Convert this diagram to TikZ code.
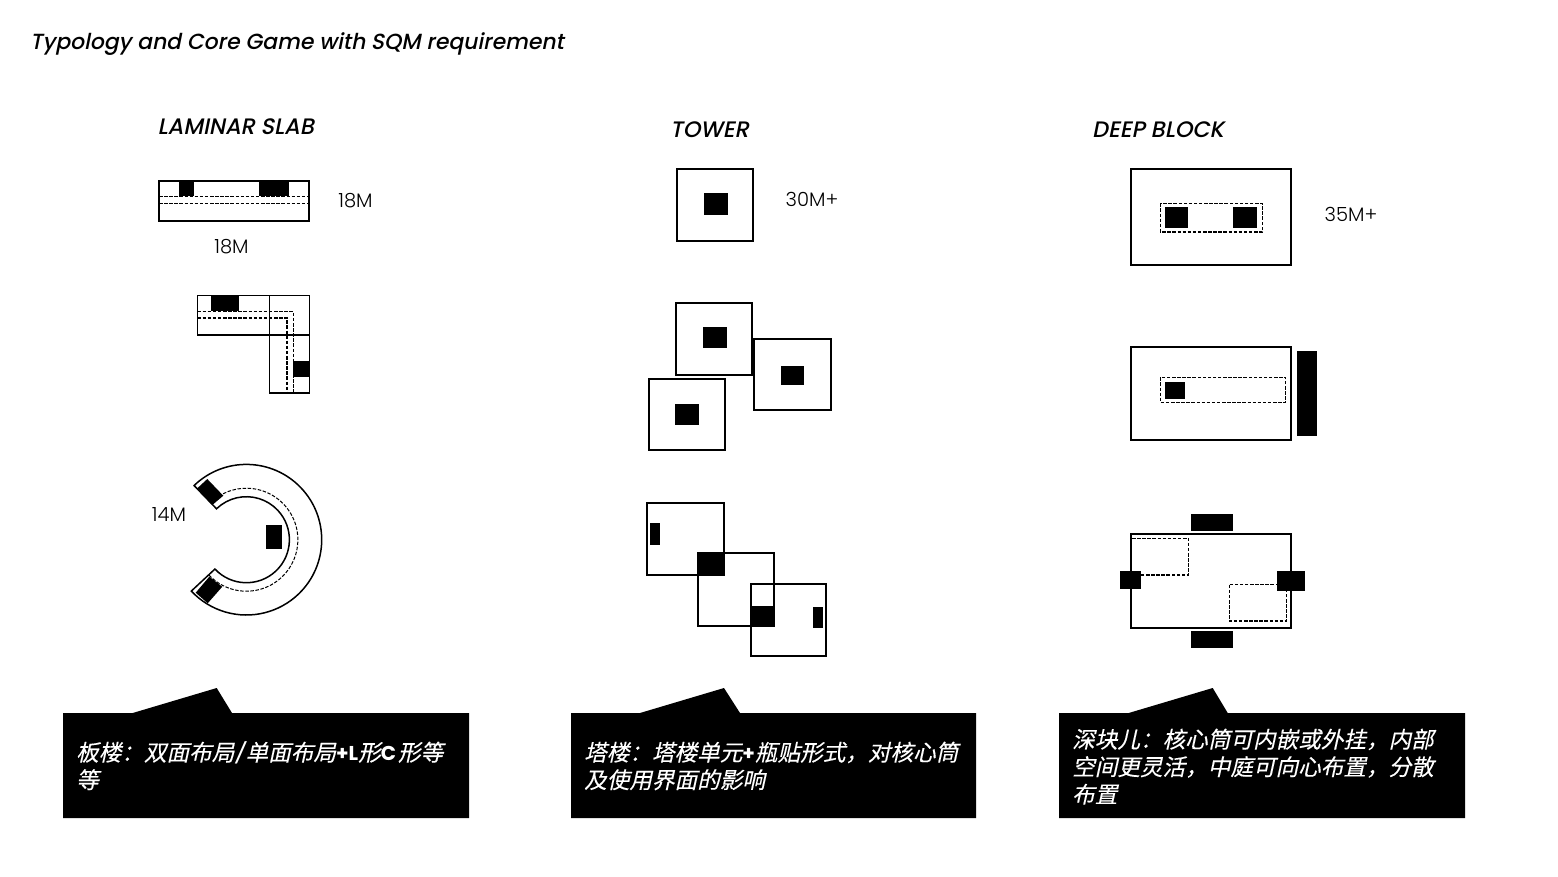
\documentclass[tikz,border=0pt]{standalone}
\usepackage{fontspec}
\setmainfont{Poppins}
\newfontfamily\cjkit[FakeSlant=0.22,FakeBold=0.25]{Noto Sans CJK SC}
\newfontfamily\gothic{Poppins}
\newfontfamily\gothicit[FakeSlant=0.2]{Poppins Medium}
\newfontfamily\gothicbf[FakeSlant=0.2]{Poppins Medium}
\newfontfamily\gothiclight{Poppins Light}
\newcommand{\lat}[1]{{\gothic\bfseries\fontsize{20}{27.5}\selectfont #1}}
\tikzset{
  wall/.style={draw=black,line width=1.8pt,fill=none},
  core/.style={fill=black,draw=none},
  dashthin/.style={draw=black,line width=1pt,dash pattern=on 3.5pt off 1.6pt},
  dashbold/.style={draw=black,line width=1.6pt,dash pattern=on 3.5pt off 1.6pt},
  heading/.style={anchor=west,inner sep=0pt,font=\gothicit\fontsize{21.9}{26}\selectfont},
  subhead/.style={anchor=west,inner sep=0pt,font=\gothicbf\fontsize{22.4}{26}\selectfont},
  dim/.style={anchor=center,inner sep=0pt,font=\gothiclight\fontsize{19.5}{22}\selectfont},
  note/.style={anchor=north west,inner sep=0pt,text=white,align=left,font=\cjkit\fontsize{22.6}{27.5}\selectfont},
}
\begin{document}
\begin{tikzpicture}[x=1pt,y=-1pt]
\useasboundingbox (0,0) rectangle (1558,876);
\fill[white] (0,0) rectangle (1558,876);
% headings
\node[heading] (title) at (30,44) {Typology and Core Game with SQM requirement};
\node[subhead] (hslab) at (157.5,127) {LAMINAR SLAB};
\node[subhead] (htower) at (670,130) {TOWER};
\node[subhead] (hdeep) at (1092,130) {DEEP BLOCK};
% slab 1
\fill[core] (179,181) rectangle (194,196);
\fill[core] (259,181) rectangle (289,196);
\draw[wall] (158.7,180.7) rectangle (309.3,221);
\draw[dashthin] (159,196) -- (309,196);
\draw[dashthin] (159,203.3) -- (309,203.3);
\node[dim] (d18a) at (355.5,201) {18M};
\node[dim] (d18b) at (231.5,247) {18M};
% slab L
\fill[core] (211,295.5) rectangle (239,311);
\fill[core] (293.3,361) rectangle (309.3,377);
\draw[wall,line width=1.6pt] (197.3,295.3) rectangle (309.3,335);
\draw[wall,line width=1.6pt] (269.3,295.3) rectangle (309.3,392.7);
\draw[dashthin] (197.5,311.7) -- (293.3,311.7) -- (293.3,392);
\draw[dashbold] (197.5,317.7) -- (286.7,317.7) -- (286.7,392);
% slab C
\def\cx{246.4}\def\cy{539.7}
\draw[wall,line width=1.5pt] ({\cx+75.3*cos(134)},{\cy-75.3*sin(134)}) arc[start angle=-134,end angle=137,radius=75.3] -- ({\cx+43*cos(223)},{\cy-43*sin(223)}) arc[start angle=137,end angle=-134,radius=43] -- cycle;
\draw[dashthin] ({\cx+51.5*cos(134)},{\cy-51.5*sin(134)}) arc[start angle=-134,end angle=137,radius=51.5];
\fill[core] (207.3,479) -- (223.3,495.7) -- (212.3,505) -- (197.3,488.3) -- cycle;
\fill[core] (209.3,576.7) -- (222.3,586.7) -- (207.7,603.3) -- (195.7,592.7) -- cycle;
\fill[core] (266,525) rectangle (282,549);
\node[dim] (d14) at (169,515) {14M};
% tower 1
\draw[wall] (677,169) rectangle (753,241);
\fill[core] (704,193) rectangle (728,215);
\node[dim] (d30) at (812,199) {30M+};
% tower 2
\draw[wall] (676,303) rectangle (752,375);
\fill[core] (703,327) rectangle (727,348);
\draw[wall] (754,339) rectangle (831,410);
\fill[core] (781,366) rectangle (804,385);
\draw[wall] (649,379) rectangle (725,450);
\fill[core] (675,404) rectangle (699,425);
% tower 3
\draw[wall] (646.7,502.7) rectangle (724,574.7);
\draw[wall] (698,553.3) rectangle (774,626);
\draw[wall] (750.7,584) rectangle (826.3,656);
\fill[core] (650,523) rectangle (660,545);
\fill[core] (697.3,553.3) rectangle (725,575.3);
\fill[core] (750.7,606) rectangle (775,626.7);
\fill[core] (813,607) rectangle (823,628);
% deep 1
\draw[wall] (1130.7,169) rectangle (1291.3,265.3);
\draw[dashbold] (1160.3,203.3) rectangle (1262.3,232);
\fill[core] (1165,207) rectangle (1188,228);
\fill[core] (1233,207) rectangle (1257,228);
\node[dim] (d35) at (1351,214) {35M+};
% deep 2
\draw[wall] (1130.7,346.7) rectangle (1291.3,440);
\draw[dashthin] (1160.3,377.3) rectangle (1285.7,402.3);
\fill[core] (1165,382) rectangle (1185,399);
\fill[core] (1297,351) rectangle (1317,436);
% deep 3
\draw[wall] (1130.7,533.7) rectangle (1291.3,628.3);
\draw[dashbold,line width=1.3pt] (1132,538.3) -- (1188.7,538.3) -- (1188.7,575) -- (1141,575);
\draw[dashbold,line width=1.3pt] (1229.3,584.7) rectangle (1286.7,621);
\fill[core] (1191,514) rectangle (1233,531);
\fill[core] (1191,631) rectangle (1233,648);
\fill[core] (1120,571) rectangle (1141,589);
\fill[core] (1277,571) rectangle (1305,591);
% callouts
\fill[black] (63,713) -- (132.7,713) -- (216.7,688) -- (232,713) -- (469,713) -- (469,818) -- (63,818) -- cycle;
\fill[black] (571,713) -- (640,713) -- (724,688) -- (740,713) -- (976,713) -- (976,818) -- (571,818) -- cycle;
\fill[black] (1059,713) -- (1128.7,713) -- (1212.7,688) -- (1227.7,713) -- (1465,713) -- (1465,818) -- (1059,818) -- cycle;
\node[note] (n1) at (76,741.5) {板楼：双面布局{\gothicit\fontsize{20}{27.5}\selectfont/}\hspace{1pt}单面布局\lat{+L}形\lat{C}\hspace{2pt}形等\\等};
\node[note] (n2) at (584,741.5) {塔楼：塔楼单元\lat{+}瓶贴形式，对核心筒\\及使用界面的影响};
\node[note] (n3) at (1072,728.5) {深块儿：核心筒可内嵌或外挂，内部\\空间更灵活，中庭可向心布置，分散\\布置};
\end{tikzpicture}
\end{document}
